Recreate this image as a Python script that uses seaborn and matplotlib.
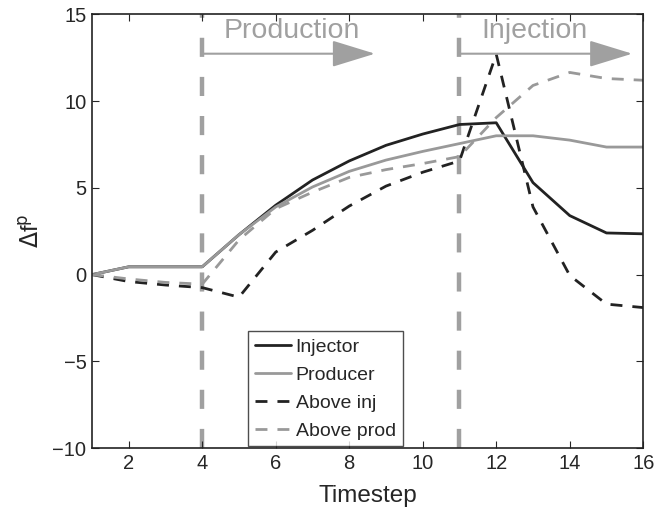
import matplotlib
matplotlib.use("Agg")
import matplotlib.pyplot as plt
import seaborn as sns
import pandas as pd

# values
timestep = [1, 2, 3, 4, 5, 6, 7, 8, 9, 10, 11, 12, 13, 14, 15, 16]
injector = [0, 0.45, 0.45, 0.45, 2.3, 4.0, 5.45, 6.55, 7.45, 8.1, 8.65, 8.75, 5.3, 3.4, 2.4, 2.35]
producer = [0, 0.45, 0.45, 0.45, 2.3, 3.9, 5.05, 5.95, 6.6, 7.1, 7.55, 8.0, 8.0, 7.75, 7.35, 7.35]
above_inj = [0, -0.4, -0.6, -0.75, -1.3, 1.3, 2.55, 3.95, 5.1, 5.9, 6.55, 12.7, 3.9, -0.05, -1.7, -1.9]
above_prod = [0, -0.25, -0.45, -0.55, 2.0, 3.8, 4.75, 5.6, 6.05, 6.4, 6.8, 9.05, 10.9, 11.65, 11.3, 11.2]

series_names = ["Injector", "Producer", "Above inj", "Above prod"]
phase_starts = [4, 11]
phase_names = ["Production", "Injection"]
phase_arrow_ends = [8.7, 15.7]
phase_text_x = [6.45, 13.05]

dark = "#222222"
grey = "#999999"
phase_grey = "#a0a0a0"

sns.set_style("ticks")
plt.rcParams["font.family"] = ["Liberation Sans", "DejaVu Sans"]

df = pd.DataFrame({"Timestep": timestep, "Injector": injector, "Producer": producer,
                   "Above inj": above_inj, "Above prod": above_prod})
long = df.melt(id_vars="Timestep", var_name="series", value_name="df")

fig = plt.figure(figsize=(6.69, 5.11), dpi=100)
ax = fig.add_axes([0.1375, 0.123, 0.824, 0.849])

dash = (0, (4.3, 3.6))
styles = {"Injector": (dark, "-"), "Producer": (grey, "-"),
          "Above inj": (dark, dash), "Above prod": (grey, dash)}
for name in series_names:
    sub = long[long["series"] == name]
    c, ls = styles[name]
    sns.lineplot(data=sub, x="Timestep", y="df", ax=ax, color=c, linestyle=ls,
                 linewidth=2, label=name)

for xs, name, xe, xt in zip(phase_starts, phase_names, phase_arrow_ends, phase_text_x):
    ax.axvline(xs, color=phase_grey, linestyle=(0, (4.3, 4.5)), linewidth=3.2, zorder=0)
    ax.annotate("", xy=(xe, 12.73), xytext=(xs, 12.73),
                arrowprops=dict(arrowstyle="-|>,head_length=2.7,head_width=0.83",
                                color=phase_grey, lw=1.5, shrinkA=0, shrinkB=0))
    ax.text(xt, 13.62, name, color=phase_grey, fontsize=20.5,
            ha="center", va="baseline")

ax.set_xlim(1, 16)
ax.set_ylim(-10, 15)
ax.set_xticks([2, 4, 6, 8, 10, 12, 14, 16])
ax.set_yticks([-10, -5, 0, 5, 10, 15])
ax.set_yticklabels(["\u221210", "\u22125", "0", "5", "10", "15"])
ax.tick_params(direction="in", top=True, right=True, labelsize=14.5, length=5, pad=4)
for s in ax.spines.values():
    s.set_linewidth(1.2)
    s.set_color(dark)
ax.set_xlabel("Timestep", fontsize=17.5, labelpad=8.5)
ax.set_ylabel("$\\Delta$f$^{\\rm p}$", fontsize=17, labelpad=6)

leg = ax.legend(loc="lower left", bbox_to_anchor=(0.283, 0.004), fontsize=14,
                frameon=True, fancybox=False, edgecolor=dark,
                handlelength=1.85, handletextpad=0.25, borderpad=0.35,
                labelspacing=0.53, borderaxespad=0)
leg.get_frame().set_linewidth(1.0)

fig.savefig("out.png", dpi=100)
